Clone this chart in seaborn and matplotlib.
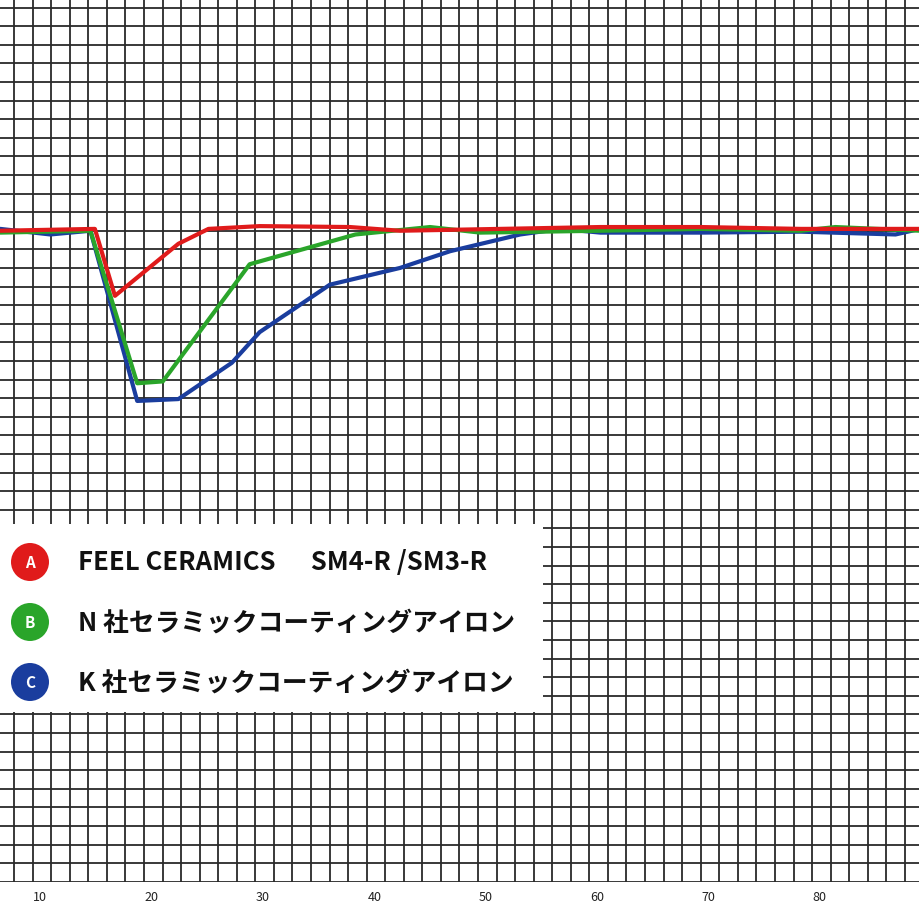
import numpy as np
import pandas as pd
import matplotlib
matplotlib.use("Agg")
import matplotlib.pyplot as plt
import seaborn as sns
from matplotlib.patches import Rectangle, Circle

sns.set_theme(style="white")
plt.rcParams['font.family'] = ['Noto Sans CJK JP', 'DejaVu Sans']

red_x = [6.4, 14.9, 16.7, 22.4, 25.1, 29.7, 37.8, 42.3, 51.3, 60.3, 69.3, 78.3, 89.0]
red_y = [35.0, 35.1, 31.5, 34.3, 35.1, 35.25, 35.2, 35.0, 35.1, 35.2, 35.2, 35.1, 35.1]
green_x = [6.4, 14.5, 18.7, 21.0, 28.8, 38.3, 45.0, 49.5, 60.3, 69.3, 78.3, 81.4, 89.0]
green_y = [34.9, 35.0, 26.8, 26.9, 33.2, 34.8, 35.2, 34.9, 35.0, 35.1, 35.0, 35.2, 35.0]
blue_x = [6.4, 10.9, 14.5, 18.7, 22.4, 27.2, 29.7, 36.0, 42.3, 46.8, 53.1, 56.7, 60.3, 69.3, 78.3, 86.8, 89.0]
blue_y = [35.1, 34.8, 35.0, 25.85, 25.95, 27.9, 29.55, 32.1, 33.0, 33.9, 34.8, 35.1, 34.9, 34.9, 34.95, 34.8, 35.1]

labels = ["FEEL CERAMICS      SM4-R /SM3-R", "N 社セラミックコーティングアイロン", "K 社セラミックコーティングアイロン"]
letters = ["A", "B", "C"]
colors = ["#e01b1b", "#2aa52a", "#1a3d9e"]
x_ticks = [10, 20, 30, 40, 50, 60, 70, 80]

df = pd.concat([
    pd.DataFrame({"x": red_x, "y": red_y, "s": "A"}),
    pd.DataFrame({"x": green_x, "y": green_y, "s": "B"}),
    pd.DataFrame({"x": blue_x, "y": blue_y, "s": "C"}),
])

fig = plt.figure(figsize=(9.2, 9.2), dpi=100)
ax = fig.add_axes([0, 0.0405, 1, 0.9595])
ax.set_xlim(6.38, 89.0)
ax.set_ylim(0, 47.46)

# grid
for gx in np.arange(7.64, 89.5, 10 / 6):
    ax.axvline(gx, color="#2a2a2a", lw=1.3, zorder=1)
for gy in np.arange(0, 48, 1):
    ax.axhline(gy, color="#2a2a2a", lw=1.3, zorder=1)

sns.lineplot(data=df, x="x", y="y", hue="s", palette=dict(zip(letters, colors)),
             hue_order=["C", "B", "A"], sort=False, lw=3, legend=False, ax=ax, zorder=3)

for s in ax.spines.values():
    s.set_visible(False)
ax.set_xticks(x_ticks)
ax.set_xticklabels([str(t) for t in x_ticks], fontsize=9, color="#222")
ax.tick_params(axis="x", length=0, pad=6)
ax.set_yticks([])
ax.set_xlabel("")
ax.set_ylabel("")

box = Rectangle((0, (920 - 713) / 920), 543 / 920, 188 / 920, transform=fig.transFigure,
                facecolor="white", edgecolor="none", zorder=5)
fig.patches.append(box)
for i, (lab, let, c) in enumerate(zip(labels, letters, colors)):
    cy = 1 - (563 + 60 * i) / 920
    circ = Circle((30 / 920, cy), 19 / 920, transform=fig.transFigure, facecolor=c,
                  edgecolor="none", zorder=6)
    fig.patches.append(circ)
    fig.text(30 / 920, cy, let, color="white", fontsize=11, fontweight="bold",
             ha="center", va="center", zorder=7)
    fig.text(78 / 920, cy, lab, color="#111", fontsize=18.5, fontweight="bold",
             ha="left", va="center", zorder=7)

fig.savefig("out.png", dpi=100, facecolor="white")
